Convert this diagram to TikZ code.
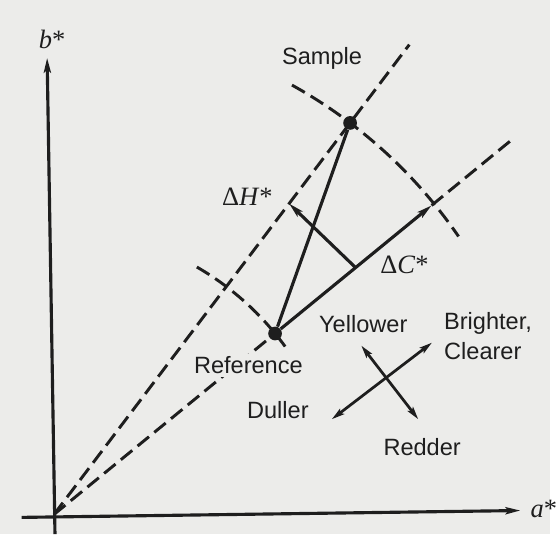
\documentclass[tikz,border=0pt]{standalone}
\usepackage{fontspec}
\setmainfont{Liberation Sans}
\newfontfamily\symbfont{Liberation Serif}
\usetikzlibrary{arrows.meta, calc}

\begin{document}
\begin{tikzpicture}[
    x=0.5pt, y=0.5pt,
    font=\fontsize{12}{15.5}\selectfont,
    >={Stealth[length=7.5pt, width=3.6pt, inset=1.5pt]},
    % --- Styles ---
    axis/.style={->, line width=1.6pt, draw=ink},
    guide/.style={line width=1.5pt, draw=ink, dash pattern=on 7.5pt off 3.5pt},
    vector/.style={->, line width=1.6pt, draw=ink},
    dir/.style={<->, line width=1.4pt, draw=ink,
        >={Stealth[length=6.5pt, width=3.4pt, inset=1.2pt]}},
    dot/.style={circle, fill=ink, inner sep=0pt, minimum size=7pt},
    txt/.style={text=ink, inner sep=1.5pt},
    masked/.style={txt, fill=paper},
    symb/.style={txt, font=\symbfont\fontsize{13.5}{16}\selectfont}
]

    % ── Colour Palette ──────────────────────────────────────────────────
    \definecolor{paper}{RGB}{236, 236, 234}   % scanned page
    \definecolor{ink}{RGB}{30, 30, 30}        % print

    % ── PAGE ────────────────────────────────────────────────────────────
    \fill[paper] (-55,-20) rectangle (505,524);

    % ── NODES ───────────────────────────────────────────────────────────

    % Axes
    \coordinate (O)     at (0,0);
    \coordinate (bLow)  at (1,-20);
    \coordinate (bTip)  at (-7,465);
    \coordinate (aLow)  at (-33,-3);
    \coordinate (aTip)  at (475,4);
    \node (bLbl) [symb] at (-2,484) {\textit{b}*};
    \node (aLbl) [symb, anchor=west] at (482,6) {\textit{a}*};

    % Colour points
    \node (sample) [dot] at (52.9:500) {};
    \node (ref)    [dot] at (39.3:291) {};

    % Hue and chroma lines
    \coordinate (hueEnd)    at (52.9:600);
    \coordinate (chromaC)   at (39.3:497);
    \coordinate (chromaEnd) at (39.3:605);
    \coordinate (hFoot)     at (39.3:397);
    \coordinate (hTip)      at (52.9:397);

    % Arcs of constant chroma
    \coordinate (outerArc) at (61:500);
    \coordinate (innerArc) at (60:291);

    % Direction cross
    \coordinate (dull)   at (283,97);
    \coordinate (bright) at (385,175);
    \coordinate (yell)   at (313,172);
    \coordinate (red)    at (371,97);

    % ── ARROWS ──────────────────────────────────────────────────────────

    \draw [axis] (bLow) -- (bTip);
    \draw [axis] (aLow) -- (aTip);

    \draw [guide] (O) -- (hueEnd);
    \draw [guide] (O) -- (ref);
    \draw [guide] (chromaC) -- (chromaEnd);
    \draw [guide] (outerArc) arc[start angle=61, end angle=34.5, radius=500];
    \draw [guide] (innerArc) arc[start angle=60, end angle=36, radius=291];

    \draw [vector, -] (ref) -- (sample);
    \draw [vector] (ref) -- (chromaC);
    \draw [vector] (hFoot) -- (hTip);

    \draw [dir] (dull) -- (bright);
    \draw [dir] (yell) -- (red);

    % ── LABELS ──────────────────────────────────────────────────────────
    \node (sampleLbl) [txt]    at (273,464) {Sample};
    \node (refLbl)    [masked] at (198,152) {Reference};
    \node (dhLbl)     [symb]   at (197,324) {Δ\textit{H}*};
    \node (dcLbl)     [symb]   at (357,254) {Δ\textit{C}*};
    \node (yellLbl)   [txt]    at (315,194) {Yellower};
    \node (brightLbl) [txt, anchor=west, align=left] at (394,181.5)
        {Brighter,\\Clearer};
    \node (dullLbl)   [txt]    at (228,106) {Duller};
    \node (redLbl)    [txt]    at (375,69) {Redder};

\end{tikzpicture}
\end{document}
